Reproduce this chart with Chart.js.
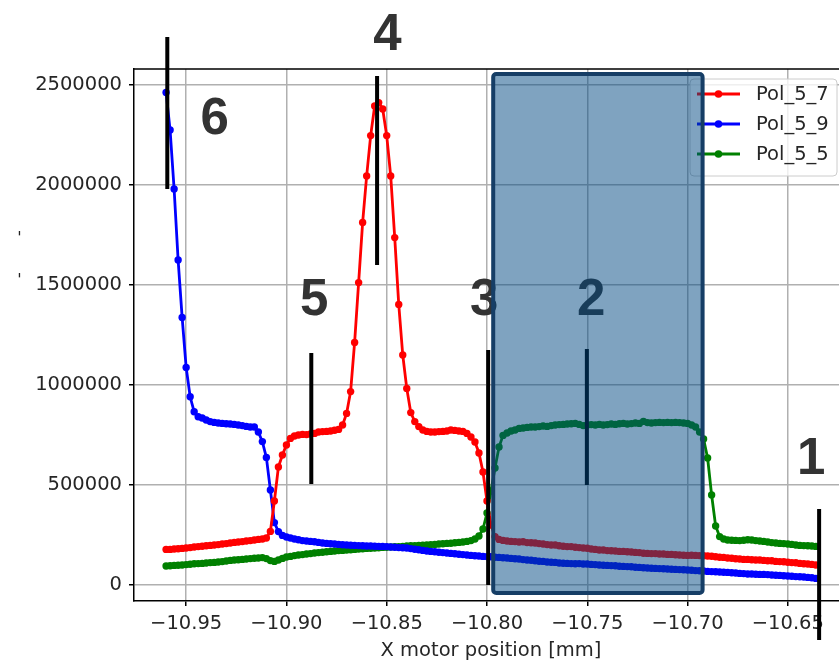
<!DOCTYPE html>
<html>
<head>
<meta charset="utf-8">
<script src="https://cdn.jsdelivr.net/npm/chart.js@4.4.1/dist/chart.umd.min.js"></script>
<style>
  html, body { margin: 0; padding: 0; background: #fff; overflow: hidden; width: 839px; height: 661px; }
  #wrap { position: relative; width: 860px; height: 661px; }
</style>
</head>
<body>
<div id="wrap"><canvas id="c" width="860" height="661"></canvas></div>
<script>
// Scan positions [mm]
const positions = [
  -10.960,-10.958,-10.956,-10.954,-10.952,-10.950,-10.948,-10.946,-10.944,-10.942,
  -10.940,-10.938,-10.936,-10.934,-10.932,-10.930,-10.928,-10.926,-10.924,-10.922,
  -10.920,-10.918,-10.916,-10.914,-10.912,-10.910,-10.908,-10.906,-10.904,-10.902,
  -10.900,-10.898,-10.896,-10.894,-10.892,-10.890,-10.888,-10.886,-10.884,-10.882,
  -10.880,-10.878,-10.876,-10.874,-10.872,-10.870,-10.868,-10.866,-10.864,-10.862,
  -10.860,-10.858,-10.856,-10.854,-10.852,-10.850,-10.848,-10.846,-10.844,-10.842,
  -10.840,-10.838,-10.836,-10.834,-10.832,-10.830,-10.828,-10.826,-10.824,-10.822,
  -10.820,-10.818,-10.816,-10.814,-10.812,-10.810,-10.808,-10.806,-10.804,-10.802,
  -10.800,-10.798,-10.796,-10.794,-10.792,-10.790,-10.788,-10.786,-10.784,-10.782,
  -10.780,-10.778,-10.776,-10.774,-10.772,-10.770,-10.768,-10.766,-10.764,-10.762,
  -10.760,-10.758,-10.756,-10.754,-10.752,-10.750,-10.748,-10.746,-10.744,-10.742,
  -10.740,-10.738,-10.736,-10.734,-10.732,-10.730,-10.728,-10.726,-10.724,-10.722,
  -10.720,-10.718,-10.716,-10.714,-10.712,-10.710,-10.708,-10.706,-10.704,-10.702,
  -10.700,-10.698,-10.696,-10.694,-10.692,-10.690,-10.688,-10.686,-10.684,-10.682,
  -10.680,-10.678,-10.676,-10.674,-10.672,-10.670,-10.668,-10.666,-10.664,-10.662,
  -10.660,-10.658,-10.656,-10.654,-10.652,-10.650,-10.648,-10.646,-10.644,-10.642,
  -10.640,-10.638,-10.636
];

const pol_5_7 = [
  178000,178000,180000,181000,183000,185000,187000,190000,192000,194000,
  196000,198000,200000,202000,205000,207000,210000,213000,215000,217000,
  220000,222000,225000,228000,230000,235000,268000,420000,590000,650000,
  700000,733000,745000,750000,753000,752000,755000,758000,765000,767000,
  768000,770000,774000,778000,800000,858000,967000,1213000,1512000,1813000,
  2045000,2247000,2395000,2412000,2380000,2247000,2045000,1737000,1403000,1150000,
  983000,862000,817000,792000,775000,768000,765000,765000,767000,768000,
  770000,775000,773000,770000,768000,758000,740000,715000,660000,565000,
  420000,300000,242000,228000,223000,220000,218000,217000,215000,216000,
  212000,211000,210000,207000,205000,202000,200000,200000,196000,194000,
  192000,192000,189000,187000,185000,184000,180000,178000,175000,175000,
  172000,171000,170000,168000,168000,166000,165000,163000,162000,159000,
  158000,157000,157000,155000,155000,153000,153000,151000,150000,149000,
  148000,149000,148000,147000,146000,145000,144000,141000,139000,138000,
  135000,134000,131000,130000,128000,128000,126000,125000,125000,123000,
  121000,121000,118000,117000,116000,114000,112000,111000,108000,106000,
  105000,103000,100000
];

const pol_5_9 = [
  2463000,2275000,1980000,1625000,1338000,1088000,941000,866000,841000,835000,
  825000,817000,813000,810000,808000,806000,805000,803000,800000,797000,
  793000,790000,790000,765000,717000,638000,475000,312000,267000,248000,
  240000,235000,230000,226000,222000,220000,218000,216000,213000,210000,
  208000,206000,205000,203000,201000,200000,199000,198000,197000,196000,
  195000,195000,194000,193000,193000,192000,190000,189000,187000,186000,
  185000,182000,179000,176000,173000,170000,168000,166000,164000,162000,
  160000,158000,156000,154000,152000,150000,148000,146000,145000,143000,
  142000,141000,139000,138000,136000,135000,133000,131000,130000,127000,
  125000,124000,121000,119000,118000,115000,114000,113000,110000,109000,
  108000,107000,106000,107000,105000,105000,103000,102000,100000,99000,
  98000,97000,96000,94000,93000,92000,91000,89000,88000,86000,
  85000,84000,83000,82000,81000,80000,79000,78000,77000,76000,
  75000,74000,72000,71000,70000,68000,67000,66000,65000,64000,
  63000,61000,60000,58000,57000,55000,55000,54000,53000,53000,
  52000,50000,49000,48000,46000,45000,44000,42000,41000,40000,
  38000,36000,33000
];

const pol_5_5 = [
  95000,96000,98000,99000,100000,102000,104000,106000,107000,108000,
  110000,112000,113000,115000,117000,120000,123000,125000,126000,128000,
  130000,132000,134000,135000,137000,132000,122000,118000,125000,133000,
  140000,143000,147000,150000,152000,155000,157000,160000,162000,164000,
  166000,168000,170000,172000,173000,175000,176000,178000,180000,181000,
  183000,184000,185000,186000,188000,189000,190000,191000,192000,193000,
  195000,196000,197000,198000,199000,200000,202000,203000,205000,206000,
  208000,209000,211000,213000,215000,218000,222000,230000,245000,280000,
  360000,470000,585000,690000,748000,760000,770000,775000,783000,785000,
  788000,790000,790000,792000,795000,793000,797000,800000,802000,803000,
  805000,806000,808000,803000,797000,800000,802000,800000,803000,800000,
  802000,805000,803000,806000,808000,805000,807000,810000,808000,818000,
  812000,810000,812000,813000,812000,813000,812000,813000,812000,810000,
  808000,800000,790000,765000,730000,635000,450000,295000,242000,230000,
  225000,224000,223000,222000,224000,226000,225000,222000,220000,218000,
  215000,212000,210000,208000,207000,205000,203000,200000,198000,197000,
  196000,195000,193000
];

const seriesNames = ['Pol_5_7', 'Pol_5_9', 'Pol_5_5'];
const seriesColors = ['#ff0000', '#0000ff', '#008000'];

const xTickValues = [-10.95, -10.90, -10.85, -10.80, -10.75, -10.70, -10.65];
const yTickValues = [0, 500000, 1000000, 1500000, 2000000, 2500000];

// Region markers: vertical bars [x, yFrom, yTo] and numbered labels [text, x, yBaseline]
const markerBars = [
  [-10.9594, 2740000, 1980000],
  [-10.8548, 2545000, 1600000],
  [-10.8876, 1160000, 505000],
  [-10.7994, 1175000, 0],
  [-10.7502, 1180000, 500000],
  [-10.6344, 380000, -275000]
];
const markerLabels = [
  ['6', -10.9358, 2255000],
  ['4', -10.8496, 2675000],
  ['5', -10.8861, 1350000],
  ['3', -10.8014, 1350000],
  ['2', -10.7480, 1350000],
  ['1', -10.6384, 555000]
];
// Highlighted window [xFrom, xTo, yTop, yBottom]
const highlightBox = [-10.7969, -10.6925, 2555000, -40000];

const FONT = '"DejaVu Sans", sans-serif';

function toPoints(ys) {
  return ys.map((y, i) => ({ x: positions[i], y }));
}

const overlayPlugin = {
  id: 'overlay',
  afterDatasetsDraw(chart) {
    const { ctx, chartArea: a } = chart;
    ctx.save();
    ctx.strokeStyle = '#000';
    ctx.lineWidth = 1.5;
    ctx.beginPath();
    ctx.moveTo(a.left, a.top);
    ctx.lineTo(a.right, a.top);
    ctx.lineTo(a.right, a.bottom);
    ctx.stroke();
    ctx.restore();
  },
  afterDraw(chart) {
    const { ctx } = chart;
    const xs = chart.scales.x, ys = chart.scales.y;

    // legend (upper right, inside the axes)
    ctx.save();
    const lx = 690, ly = 79, lw = 147, lh = 97, r = 4;
    ctx.beginPath();
    ctx.roundRect(lx, ly, lw, lh, r);
    ctx.fillStyle = 'rgba(255,255,255,0.8)';
    ctx.fill();
    ctx.strokeStyle = '#cccccc';
    ctx.lineWidth = 1;
    ctx.stroke();
    chart.data.datasets.forEach((ds, i) => {
      const yy = 94 + i * 30;
      ctx.strokeStyle = ds.borderColor;
      ctx.lineWidth = 2.8;
      ctx.beginPath();
      ctx.moveTo(697, yy);
      ctx.lineTo(740, yy);
      ctx.stroke();
      ctx.fillStyle = ds.borderColor;
      ctx.beginPath();
      ctx.arc(718.5, yy, 3.8, 0, Math.PI * 2);
      ctx.fill();
      ctx.fillStyle = '#262626';
      ctx.font = '19.5px ' + FONT;
      ctx.textBaseline = 'middle';
      ctx.textAlign = 'left';
      ctx.fillText(ds.label, 756, yy + 1);
    });
    ctx.restore();

    // vertical marker bars
    ctx.save();
    ctx.strokeStyle = '#000';
    ctx.lineWidth = 4;
    markerBars.forEach(([x, y0, y1]) => {
      const px = xs.getPixelForValue(x);
      ctx.beginPath();
      ctx.moveTo(px, ys.getPixelForValue(y0));
      ctx.lineTo(px, ys.getPixelForValue(y1));
      ctx.stroke();
    });
    // numbered labels
    ctx.fillStyle = '#333333';
    ctx.font = 'bold 51px "Liberation Sans", Arial, sans-serif';
    ctx.textAlign = 'center';
    ctx.textBaseline = 'alphabetic';
    markerLabels.forEach(([t, x, y]) => {
      ctx.fillText(t, xs.getPixelForValue(x), ys.getPixelForValue(y));
    });
    ctx.restore();

    // highlighted window
    ctx.save();
    const bx0 = xs.getPixelForValue(highlightBox[0]);
    const bx1 = xs.getPixelForValue(highlightBox[1]);
    const by0 = ys.getPixelForValue(highlightBox[2]);
    const by1 = ys.getPixelForValue(highlightBox[3]);
    ctx.beginPath();
    ctx.roundRect(bx0, by0, bx1 - bx0, by1 - by0, 3);
    ctx.fillStyle = 'rgba(0,71,129,0.5)';
    ctx.fill();
    ctx.strokeStyle = '#163e66';
    ctx.lineWidth = 4;
    ctx.stroke();
    ctx.restore();

    // stray tick marks at the far left
    ctx.save();
    ctx.fillStyle = '#222';
    ctx.font = '16px ' + FONT;
    ctx.textAlign = 'center';
    ctx.textBaseline = 'alphabetic';
    ctx.fillText("'", 19.5, 243);
    ctx.fillText("'", 19.5, 285);
    ctx.restore();
  }
};

new Chart(document.getElementById('c'), {
  type: 'line',
  data: {
    datasets: seriesNames.map((name, i) => ({
      label: name,
      data: toPoints([pol_5_7, pol_5_9, pol_5_5][i]),
      borderColor: seriesColors[i],
      backgroundColor: seriesColors[i],
      pointBackgroundColor: seriesColors[i],
      pointBorderWidth: 0,
      pointRadius: 3.7,
      borderWidth: 2.8,
      tension: 0,
      fill: false
    }))
  },
  options: {
    responsive: false,
    animation: false,
    devicePixelRatio: 1,
    layout: { padding: { top: 69, right: 12, left: 0, bottom: 0 } },
    plugins: { legend: { display: false }, tooltip: { enabled: false } },
    scales: {
      x: {
        type: 'linear',
        min: -10.976,
        max: -10.620,
        afterFit(scale) { scale.height = 60; },
        afterBuildTicks(scale) { scale.ticks = xTickValues.map(v => ({ value: v })); },
        grid: { color: '#b0b0b0', lineWidth: 1.5, tickColor: '#000', tickLength: 5, tickWidth: 1.5 },
        border: { color: '#000', width: 1.5 },
        ticks: {
          color: '#262626',
          font: { family: FONT, size: 19.5 },
          padding: 6,
          maxRotation: 0,
          callback: v => '\u2212' + Math.abs(v).toFixed(2)
        },
        title: {
          display: true,
          text: 'X motor position [mm]',
          color: '#262626',
          font: { family: FONT, size: 19.5 },
          padding: { top: 0, bottom: -2 }
        }
      },
      y: {
        type: 'linear',
        min: -80000,
        max: 2580000,
        afterFit(scale) { scale.width = 134; },
        afterBuildTicks(scale) { scale.ticks = yTickValues.map(v => ({ value: v })); },
        grid: { color: '#b0b0b0', lineWidth: 1.5, tickColor: '#000', tickLength: 5, tickWidth: 1.5 },
        border: { color: '#000', width: 1.5 },
        ticks: {
          color: '#262626',
          font: { family: FONT, size: 19.5 },
          padding: 7,
          callback: v => String(v)
        }
      }
    }
  },
  plugins: [overlayPlugin]
});
</script>
</body>
</html>
